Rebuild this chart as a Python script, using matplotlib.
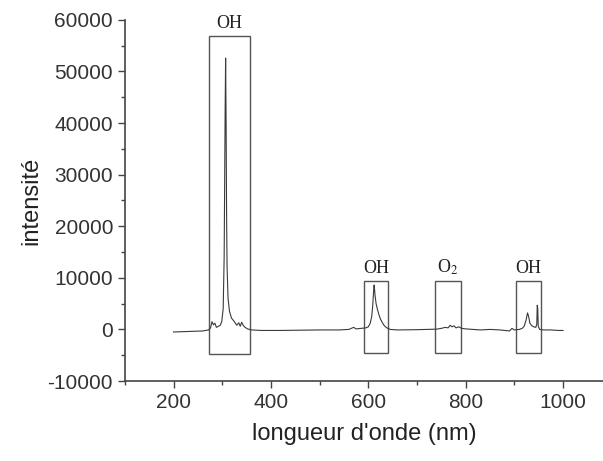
import matplotlib
matplotlib.use("Agg")
import matplotlib.pyplot as plt
from matplotlib.patches import Rectangle
from matplotlib.ticker import MultipleLocator

# spectrum (nm, intensity)
wavelength = [200, 230, 260, 272, 276, 279, 282, 285, 288, 292, 296, 299, 302, 304,
              306, 307, 308, 309, 310, 312, 315, 319, 325, 330, 334, 337, 340, 343,
              347, 352, 360, 380, 420, 460, 500, 540, 560, 570, 575, 585, 595, 600,
              604, 607, 609, 611, 612, 614, 616, 619, 622, 625, 629, 633, 638, 645,
              660, 700, 720, 740, 750, 758, 764, 768, 772, 776, 780, 786, 792, 800,
              830, 850, 870, 890, 895, 900, 910, 916, 920, 924, 927, 929, 932, 936,
              940, 944, 946, 947, 948, 949, 952, 960, 975, 990, 1000]
intensity = [-500, -400, -300, -100, 300, 1500, 900, 1200, 400, 600, 800, 1500, 4000, 14000,
             42000, 52600, 40000, 22000, 12000, 6000, 3500, 2200, 1500, 800, 1300, 600, 1400, 800,
             400, 100, -100, -200, -200, -150, -100, -100, 0, 400, 100, 200, 300, 500,
             1200, 2500, 4500, 7500, 8600, 6500, 5000, 3800, 2800, 2000, 1300, 700, 300, 0,
             -100, -50, 0, 50, 200, 400, 300, 800, 500, 700, 300, 500, 200, 100,
             -100, 0, -100, -300, 200, -100, 0, 200, 600, 1800, 3200, 2600, 1200, 700,
             500, 400, 1000, 4700, 4000, 600, 0, -100, -100, -200, -200]

# boxes: (x0, x1, y0, y1) and their labels
box_x0 = [272, 592, 738, 903]
box_x1 = [357, 641, 790, 955]
box_y0 = [-4800, -4500, -4500, -4500]
box_y1 = [56900, 9400, 9400, 9400]
box_labels = ["OH", "OH", r"O$_2$", "OH"]

plt.rcParams['font.family'] = ['Liberation Sans', 'DejaVu Sans']
plt.rcParams['mathtext.fontset'] = 'stix'
plt.rcParams['axes.unicode_minus'] = False

fig = plt.figure(figsize=(6.03, 4.61), dpi=100)
ax = fig.add_axes([0.207, 0.1735, 0.793, 0.7835])

ax.plot(wavelength, intensity, color='#3a3a3a', lw=0.8)

for x0, x1, y0, y1, lab in zip(box_x0, box_x1, box_y0, box_y1, box_labels):
    ax.add_patch(Rectangle((x0, y0), x1 - x0, y1 - y0, fill=False,
                           edgecolor='#555555', lw=1.0))
    ax.text((x0 + x1) / 2, y1 + 700, lab, ha='center', va='bottom',
            fontsize=13, family='Liberation Serif', color='#222222')

ax.set_xlim(100, 1082)
ax.set_ylim(-10000, 60000)
ax.xaxis.set_major_locator(MultipleLocator(200))
ax.xaxis.set_minor_locator(MultipleLocator(100))
ax.yaxis.set_major_locator(MultipleLocator(10000))
ax.yaxis.set_minor_locator(MultipleLocator(5000))

for s in ['top', 'right']:
    ax.spines[s].set_visible(False)
for s in ['left', 'bottom']:
    ax.spines[s].set_color('#444444')
    ax.spines[s].set_linewidth(1.2)

ax.tick_params(which='major', length=5, width=1, color='#444444', labelsize=15,
               labelcolor='#333333', direction='out')
ax.tick_params(which='minor', length=3, width=1, color='#444444', direction='out')

ax.set_xlabel("longueur d'onde (nm)", fontsize=17, color='#222222', labelpad=8)
ax.set_ylabel("intensité", fontsize=17, color='#222222', labelpad=4)

fig.savefig('out.png', dpi=100)
